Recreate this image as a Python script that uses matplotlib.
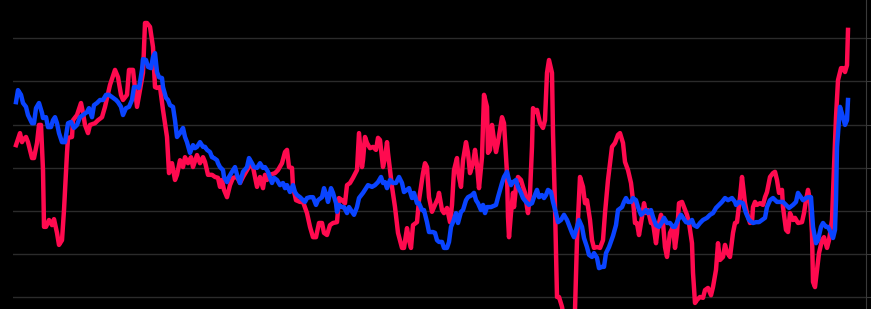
import matplotlib
matplotlib.use("Agg")
import matplotlib.pyplot as plt

# day index and index value for the two series
red_x = [0, 4, 6, 7, 10, 12, 16, 18, 21, 23, 25, 27, 28, 30, 33, 36, 38, 41, 43, 46,
         48, 51, 52, 56, 57, 61, 65, 67, 69, 72, 74, 79, 82, 86, 89, 94, 99, 102, 105, 107,
         111, 113, 117, 121, 124, 127, 129, 131, 134, 137, 139, 141, 144, 147, 151, 153, 156, 159, 161, 164,
         167, 169, 172, 175, 177, 181, 184, 187, 189, 192, 196, 199, 202, 204, 206, 208, 211, 214, 217, 221,
         224, 227, 231, 234, 237, 241, 244, 247, 249, 251, 254, 259, 262, 266, 269, 271, 273, 276, 277, 280,
         284, 287, 291, 294, 297, 300, 303, 306, 308, 311, 314, 317, 321, 323, 326, 329, 331, 334, 337, 341,
         343, 346, 347, 349, 351, 354, 357, 360, 362, 364, 367, 369, 371, 372, 376, 379, 382, 386, 388, 391,
         393, 395, 397, 401, 403, 407, 409, 411, 413, 416, 419, 422, 423, 426, 428, 431, 434, 436, 438, 441,
         442, 445, 447, 450, 452, 454, 457, 459, 461, 463, 466, 468, 471, 472, 474, 476, 478, 480, 482, 486,
         488, 491, 492, 493, 495, 497, 498, 500, 502, 505, 507, 509, 511, 512, 514, 516, 517, 520, 521, 524,
         527, 529, 531, 533, 536, 537, 539, 541, 543, 546, 550, 556, 559, 561, 564, 567, 569, 571, 574, 576,
         578, 581, 584, 587, 589, 592, 596, 599, 602, 604, 607, 609, 612, 615, 617, 619, 621, 623, 626, 628,
         630, 632, 635, 637, 640, 642, 645, 647, 649, 651, 654, 657, 659, 661, 663, 666, 668, 671, 673, 676,
         677, 679, 681, 684, 687, 689, 692, 695, 697, 700, 702, 704, 707, 709, 711, 714, 717, 719, 721, 724,
         726, 729, 731, 734, 736, 737, 739, 741, 744, 747, 749, 751, 754, 757, 759, 761, 763, 766, 767, 770,
         772, 774, 777, 779, 782, 786, 788, 790, 792, 794, 796, 797, 799, 801, 803, 806, 808, 811, 813, 816,
         818, 820, 822, 825, 827, 829, 831, 832]
red_y = [35.2, 38.0, 35.9, 36.4, 37.1, 35.9, 32.2, 32.2, 35.7, 39.9, 39.9, 29.4, 16.2, 16.2, 17.8, 16.6, 18.0, 14.8, 12.0, 13.1,
         20.1, 33.4, 36.9, 37.1, 41.0, 42.2, 45.0, 42.7, 39.9, 38.0, 39.9, 40.3, 41.0, 41.7, 44.1, 49.2, 52.7, 51.0, 46.9, 45.7,
         46.9, 52.7, 52.7, 44.1, 48.0, 52.0, 63.6, 63.6, 62.7, 58.0, 48.7, 48.5, 48.7, 43.4, 37.1, 28.7, 31.0, 27.1, 28.3, 31.7,
         30.1, 32.4, 31.0, 32.4, 30.1, 32.9, 31.0, 32.4, 31.3, 28.3, 28.3, 27.8, 27.6, 25.5, 27.1, 24.8, 23.1, 25.9, 27.6, 27.8,
         26.4, 27.8, 29.4, 30.6, 30.1, 25.5, 27.8, 25.2, 28.3, 27.1, 28.3, 28.7, 29.4, 31.0, 33.6, 34.1, 30.1, 29.9, 25.5, 22.4,
         22.0, 22.0, 19.4, 16.2, 13.8, 13.8, 17.1, 17.1, 14.8, 14.3, 16.6, 17.1, 17.3, 22.9, 22.4, 21.7, 25.9, 26.4, 27.6, 29.4,
         38.0, 30.1, 31.7, 37.1, 35.7, 34.5, 34.8, 34.1, 36.9, 36.4, 30.1, 32.2, 35.9, 33.4, 25.5, 20.8, 14.8, 11.3, 11.3, 15.9,
         13.1, 11.3, 16.6, 17.3, 22.4, 28.7, 31.0, 30.1, 23.1, 19.7, 21.3, 22.9, 24.1, 20.1, 19.4, 20.6, 17.3, 21.3, 29.4, 32.2,
         29.0, 25.5, 31.7, 35.9, 33.4, 28.7, 31.0, 34.1, 30.6, 25.2, 32.4, 46.9, 44.1, 33.4, 34.1, 39.9, 36.4, 33.6, 35.9, 41.7,
         40.3, 28.7, 18.5, 13.8, 19.4, 24.1, 20.8, 25.5, 27.8, 27.1, 25.5, 24.1, 20.8, 19.4, 24.1, 34.8, 43.8, 42.9, 43.4, 40.3,
         39.2, 41.0, 52.0, 55.0, 52.0, 38.0, 20.8, -0.1, -0.1, -2.4, -7.8, -7.8, -3.1, 13.1, 27.8, 25.5, 21.7, 22.4, 17.8, 13.1,
         11.3, 11.5, 11.3, 13.1, 19.4, 27.1, 34.8, 35.7, 37.6, 38.0, 35.7, 31.3, 29.4, 26.4, 22.4, 17.1, 17.1, 14.3, 18.5, 21.7,
         19.4, 20.1, 17.1, 17.1, 12.4, 16.2, 19.0, 17.1, 11.5, 9.2, 14.8, 16.2, 11.3, 14.8, 21.7, 22.0, 20.8, 19.0, 17.1, 12.4,
         5.5, -1.5, -0.8, -0.1, -0.3, 1.5, 2.0, 0.3, 2.2, 6.2, 12.4, 8.5, 9.2, 12.0, 10.3, 9.2, 14.8, 17.1, 17.3, 23.1,
         27.8, 21.7, 19.4, 17.1, 17.3, 20.8, 22.0, 21.3, 21.7, 21.3, 23.1, 24.3, 27.8, 28.7, 29.0, 27.1, 24.1, 24.8, 20.8, 15.5,
         15.0, 19.4, 17.8, 18.3, 17.1, 17.3, 19.4, 22.4, 24.8, 22.4, 14.8, 3.4, 2.2, 6.2, 10.1, 13.1, 13.8, 11.3, 13.1, 17.8,
         30.1, 41.7, 50.3, 53.1, 53.1, 52.2, 53.8, 62.0]

blue_x = [0, 2, 5, 7, 10, 12, 16, 18, 20, 23, 26, 27, 30, 32, 35, 37, 39, 41, 43, 46,
          49, 52, 55, 58, 61, 64, 67, 71, 73, 76, 78, 81, 84, 87, 90, 93, 97, 100, 102, 105,
          107, 110, 113, 116, 118, 121, 123, 126, 127, 130, 132, 135, 137, 139, 141, 143, 146, 147, 150, 152,
          154, 157, 159, 161, 164, 167, 169, 171, 174, 177, 179, 181, 184, 187, 189, 191, 194, 196, 198, 201,
          202, 204, 207, 208, 211, 213, 216, 219, 221, 224, 227, 231, 233, 236, 238, 241, 244, 247, 249, 252,
          256, 258, 261, 264, 267, 269, 271, 274, 277, 279, 281, 284, 287, 289, 291, 294, 297, 300, 302, 306,
          308, 311, 312, 315, 317, 320, 321, 323, 326, 328, 331, 333, 336, 338, 341, 343, 347, 350, 352, 356,
          359, 362, 365, 367, 369, 371, 374, 377, 380, 383, 386, 388, 391, 393, 396, 398, 401, 403, 406, 408,
          411, 413, 417, 419, 421, 423, 426, 428, 431, 433, 435, 437, 440, 442, 445, 447, 450, 452, 456, 458,
          460, 462, 465, 467, 469, 471, 475, 480, 482, 486, 488, 491, 493, 495, 497, 500, 502, 505, 507, 510,
          513, 516, 518, 521, 523, 526, 528, 530, 532, 535, 537, 540, 542, 545, 548, 551, 553, 556, 558, 561,
          563, 566, 568, 571, 573, 576, 578, 581, 583, 586, 588, 590, 593, 597, 600, 602, 606, 608, 610, 612,
          615, 617, 620, 622, 625, 627, 630, 632, 635, 637, 640, 643, 646, 648, 651, 654, 657, 659, 662, 665,
          667, 670, 673, 676, 678, 681, 684, 687, 691, 694, 697, 700, 703, 706, 709, 712, 716, 719, 720, 723,
          727, 730, 733, 737, 740, 743, 746, 749, 751, 754, 757, 761, 764, 767, 770, 773, 777, 780, 782, 785,
          787, 790, 792, 795, 797, 800, 802, 805, 807, 810, 812, 815, 817, 819, 820, 821, 824, 827, 829, 831,
          832]
blue_y = [45.2, 48.0, 46.9, 45.0, 44.1, 42.2, 40.3, 40.3, 43.8, 45.0, 42.7, 41.5, 41.7, 39.4, 39.4, 41.0, 41.7, 40.3, 38.0, 35.9,
          35.9, 40.3, 40.6, 39.2, 39.9, 41.7, 42.2, 42.9, 43.8, 41.7, 44.5, 45.0, 45.7, 45.7, 46.9, 46.9, 46.2, 45.7, 45.2, 44.1,
          42.2, 43.8, 44.1, 45.7, 48.7, 48.7, 48.5, 52.7, 55.2, 55.0, 53.4, 53.1, 55.7, 56.6, 52.2, 51.0, 50.8, 48.7, 46.2, 45.7,
          44.5, 44.1, 41.0, 37.1, 38.0, 39.2, 37.1, 35.9, 33.4, 35.2, 34.5, 34.8, 35.9, 34.8, 34.8, 34.1, 33.6, 32.4, 32.2, 31.7,
          31.0, 30.1, 29.4, 27.8, 26.6, 27.8, 29.0, 30.1, 28.3, 26.4, 29.0, 30.1, 32.2, 31.0, 30.1, 29.9, 31.0, 29.9, 30.1, 29.0,
          26.4, 27.6, 27.1, 25.9, 26.4, 25.2, 25.9, 24.3, 25.9, 24.3, 23.6, 23.1, 22.4, 22.0, 22.9, 23.1, 23.1, 21.3, 22.4, 23.1,
          25.2, 23.1, 22.0, 25.2, 24.1, 21.7, 19.7, 21.3, 20.8, 20.8, 19.4, 20.8, 19.7, 19.0, 20.8, 22.9, 24.1, 25.2, 25.9, 25.5,
          25.9, 26.6, 27.8, 26.4, 26.6, 25.2, 27.1, 26.4, 26.4, 27.8, 26.4, 24.3, 24.8, 25.2, 22.9, 24.1, 21.7, 21.7, 20.1, 20.1,
          17.3, 15.0, 15.0, 14.8, 13.1, 12.7, 12.7, 11.3, 11.3, 12.7, 16.2, 17.3, 19.4, 17.1, 19.7, 20.1, 22.4, 23.1, 23.6, 24.1,
          22.4, 21.7, 20.1, 21.3, 19.4, 20.8, 20.8, 21.3, 23.1, 26.4, 27.8, 29.0, 27.1, 25.9, 26.6, 27.1, 25.5, 24.1, 22.9, 22.0,
          21.3, 21.7, 23.1, 24.8, 23.1, 23.6, 22.9, 23.6, 24.8, 24.3, 22.0, 19.4, 17.3, 17.8, 19.0, 17.8, 16.6, 14.8, 13.8, 16.2,
          17.8, 16.2, 13.6, 11.5, 9.7, 9.2, 10.1, 9.0, 6.6, 6.9, 6.9, 10.1, 11.5, 14.1, 16.6, 20.1, 20.8, 22.0, 22.9, 22.0,
          22.0, 22.9, 22.4, 20.8, 19.0, 19.4, 20.1, 19.4, 20.1, 18.5, 16.6, 16.2, 17.3, 18.3, 17.1, 17.1, 16.2, 16.2, 17.8, 19.0,
          18.3, 17.3, 17.1, 17.8, 16.6, 16.2, 17.1, 17.8, 18.3, 19.0, 19.4, 20.6, 21.3, 22.0, 22.9, 22.4, 22.9, 22.0, 21.3, 22.0,
          21.7, 19.4, 17.8, 17.1, 17.3, 17.3, 17.8, 18.3, 20.8, 22.4, 22.9, 22.0, 22.0, 22.0, 21.3, 20.6, 21.3, 22.0, 24.1, 23.1,
          22.4, 22.9, 23.1, 23.1, 16.2, 12.4, 13.1, 16.2, 17.1, 16.2, 16.2, 14.8, 13.6, 15.5, 22.4, 34.8, 44.1, 41.7, 39.9, 41.0,
          45.7]

grid_values = [0, 10, 20, 30, 40, 50, 60]

fig = plt.figure(figsize=(8.71, 3.09), dpi=100, facecolor='black')
ax = fig.add_axes([13 / 871, 0, 853 / 871, 1])
ax.set_facecolor('black')

ax.plot(red_x, red_y, color='#ff0a4f', lw=3.2, solid_joinstyle='round', zorder=3)
ax.plot(blue_x, blue_y, color='#0a44ff', lw=3.2, solid_joinstyle='round', zorder=4)

ax.set_xlim(-3, 850)
ax.set_ylim(-2.9, 68.95)

# horizontal grid, right spine with outward ticks, no labels
ax.set_yticks(grid_values)
ax.yaxis.tick_right()
ax.tick_params(axis='y', direction='out', length=4, width=0.8, color='#3a3a3a', labelright=False)
ax.grid(axis='y', color='#2b2b2b', lw=1)
ax.set_axisbelow(True)
ax.set_xticks([])
for side in ['left', 'top', 'bottom']:
    ax.spines[side].set_visible(False)
ax.spines['right'].set_color('#3a3a3a')
ax.spines['right'].set_linewidth(0.8)

fig.savefig('out.png', dpi=100, facecolor='black')
